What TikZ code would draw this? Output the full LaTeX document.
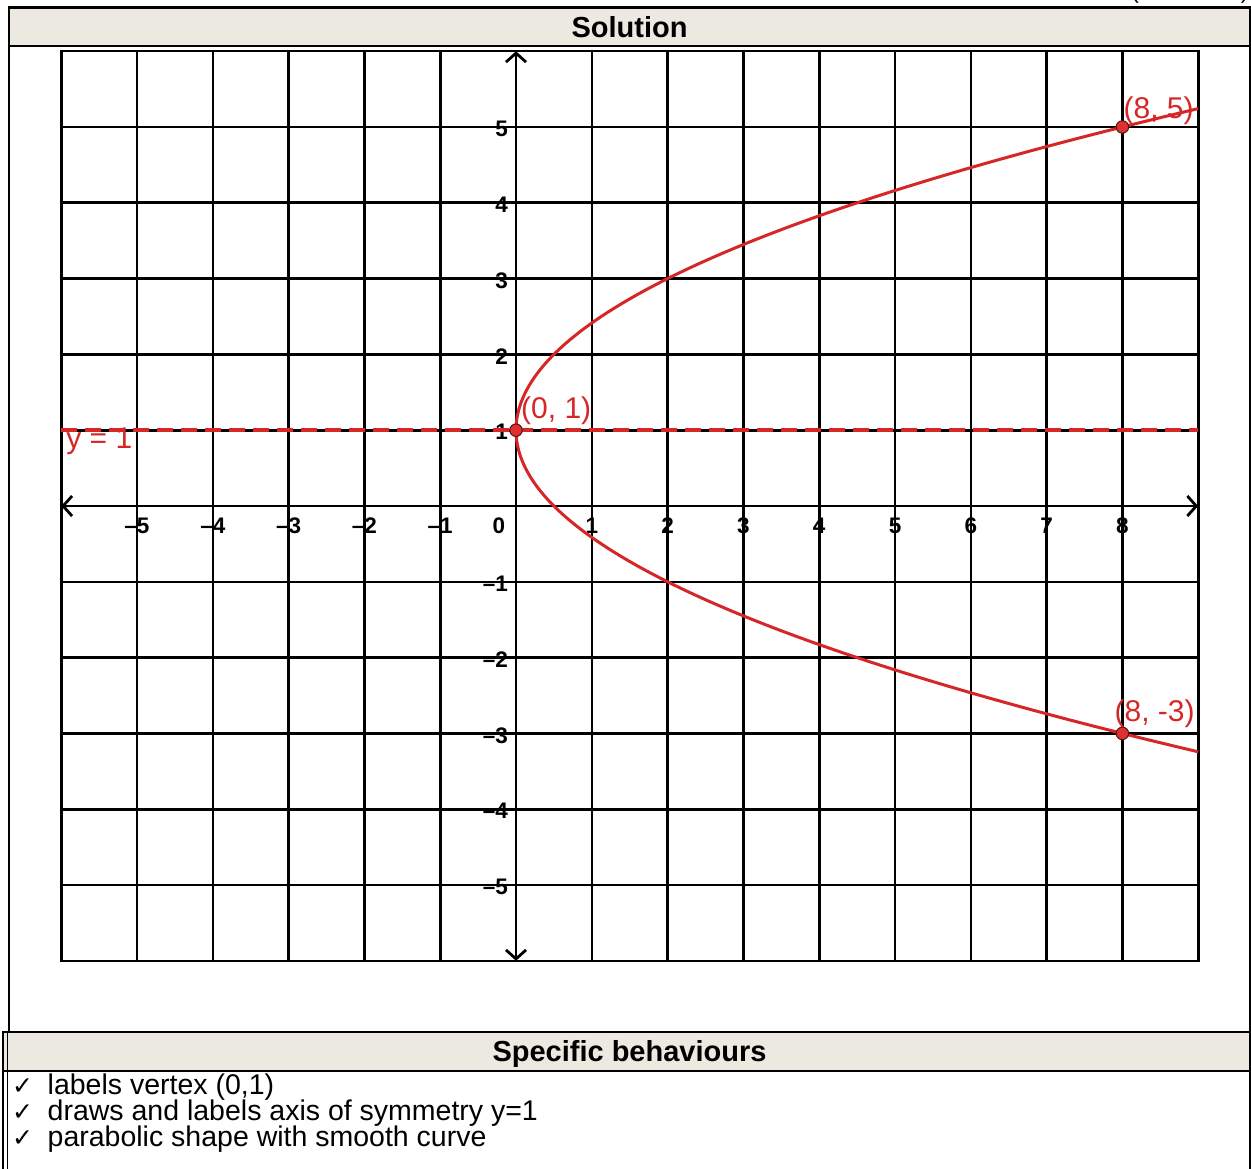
\documentclass[tikz,border=0pt]{standalone}
\usepackage{fontspec}
\setmainfont{Liberation Sans}
\newfontfamily\symfont{DejaVu Sans}
\usetikzlibrary{arrows.meta}
\definecolor{gred}{RGB}{214,39,40}
\definecolor{gredfill}{RGB}{222,48,48}
\definecolor{gredline}{RGB}{90,20,20}
\definecolor{hdrfill}{RGB}{236,234,224}
\begin{document}
\begin{tikzpicture}[x=1pt,y=-1pt,
  gridline/.style={line width=2.6pt, black, line cap=rect},
  axisline/.style={line width=2.8pt, black, {Straight Barb[length=9pt,width=20pt]}-{Straight Barb[length=9pt,width=20pt]}},
  dashline/.style={line width=4pt, gred, dash pattern=on 16pt off 8pt},
  curve/.style={line width=3pt, gred},
  pt/.style={circle, fill=gredfill, draw=gredline, line width=1pt, inner sep=0pt, minimum size=12.5pt},
  lbl/.style={inner sep=0pt, text=gred, font=\fontsize{30}{30}\selectfont},
  tick/.style={inner sep=0pt, font=\bfseries\fontsize{22.5}{22.5}\selectfont},
  hdr/.style={inner sep=0pt, anchor=base, font=\bfseries\fontsize{29}{29}\selectfont},
  body/.style={inner sep=0pt, anchor=base west, font=\fontsize{28.5}{28.5}\selectfont},
  chk/.style={inner sep=0pt, anchor=base west, font=\symfont\fontsize{25}{25}\selectfont}]
\useasboundingbox (0,0) rectangle (1251,1169);

% ---- table frame ----
\fill[hdrfill] (9,7.5) rectangle (1250,46);
\fill[hdrfill] (3,1032) rectangle (1250,1070.7);
\draw[line width=2.4pt] (8,7.5) -- (1251,7.5);
\draw[line width=1.8pt] (9,46) -- (1250,46);
\draw[line width=1.4pt] (9,7.5) -- (9,1032);
\draw[line width=2.2pt] (1250,6.5) -- (1250,1169);
\draw[line width=2.6pt] (2,1032) -- (1251,1032);
\draw[line width=2pt] (3,1070.7) -- (1250,1070.7);
\draw[line width=1.4pt] (3,1032) -- (3,1169);
\draw[line width=1.4pt] (7.5,1032) -- (7.5,1169);

\node[inner sep=0pt, anchor=base west, font=\fontsize{23.5}{23.5}\selectfont] (cont) at (1131,-1.5) {(continued)};
\node[hdr] (sol) at (629.5,37.5) {Solution};
\node[hdr] (spec) at (629.5,1061) {Specific behaviours};

\node[chk] (c1) at (12,1094) {✓};
\node[chk] (c2) at (12,1120) {✓};
\node[chk] (c3) at (12,1146) {✓};
\node[body] (b1) at (47.5,1094) {labels vertex (0,1)};
\node[body] (b2) at (47.5,1120) {draws and labels axis of symmetry y=1};
\node[body] (b3) at (47.5,1146) {parabolic shape with smooth curve};

% ---- graph ----
\begin{scope}[xshift=516pt,yshift=-506pt,x=75.8pt,y=75.8pt]
  \foreach \i in {-6,...,9} \draw[gridline] (\i,-6) -- (\i,6);
  \foreach \j in {-6,...,6} \draw[gridline] (-6,\j) -- (9,\j);

  \coordinate (xl) at (-6,0); \coordinate (xr) at (9,0);
  \coordinate (yb) at (0,-6); \coordinate (yt) at (0,6);
  \draw[axisline] (xl) -- (xr);
  \draw[axisline] (yb) -- (yt);

  \foreach \i/\t in {-5/–5,-4/–4,-3/–3,-2/–2,-1/–1,1/1,2/2,3/3,4/4,5/5,6/6,7/7,8/8}
    \node[tick] (tx\i) at ([yshift=-19.7pt]\i,0) {\t};
  \node[tick] (tx0) at ([xshift=-17pt,yshift=-19.7pt]0,0) {0};
  \foreach \j/\t in {5/5,4/4,3/3,2/2,1/1,-1/–1,-2/–2,-3/–3,-4/–4,-5/–5}
    \node[tick, anchor=east] (ty\j) at ([xshift=-8pt,yshift=-2pt]0,\j) {\t};

  \coordinate (dl) at (-6,1); \coordinate (dr) at (9,1);
  \draw[dashline] (dl) -- (dr);

  \draw[curve] plot[variable=\t, domain=-4.2426:4.2426, samples=150, smooth] ({\t*\t/2},{\t+1});

  \node[pt] (v) at (0,1) {};
  \node[pt] (p1) at (8,5) {};
  \node[pt] (p2) at (8,-3) {};

  \node[lbl, anchor=base west] (lv) at ([xshift=5pt,yshift=12pt]v.center) {(0, 1)};
  \node[lbl, anchor=base west] (l1) at ([xshift=1pt,yshift=8.5pt]p1.center) {(8, 5)};
  \node[lbl, anchor=base west] (l2) at ([xshift=-8pt,yshift=12pt]p2.center) {(8, -3)};
  \node[lbl, anchor=base west] (ly) at ([xshift=5pt,yshift=-18pt]dl) {y = 1};
\end{scope}
\end{tikzpicture}
\end{document}
